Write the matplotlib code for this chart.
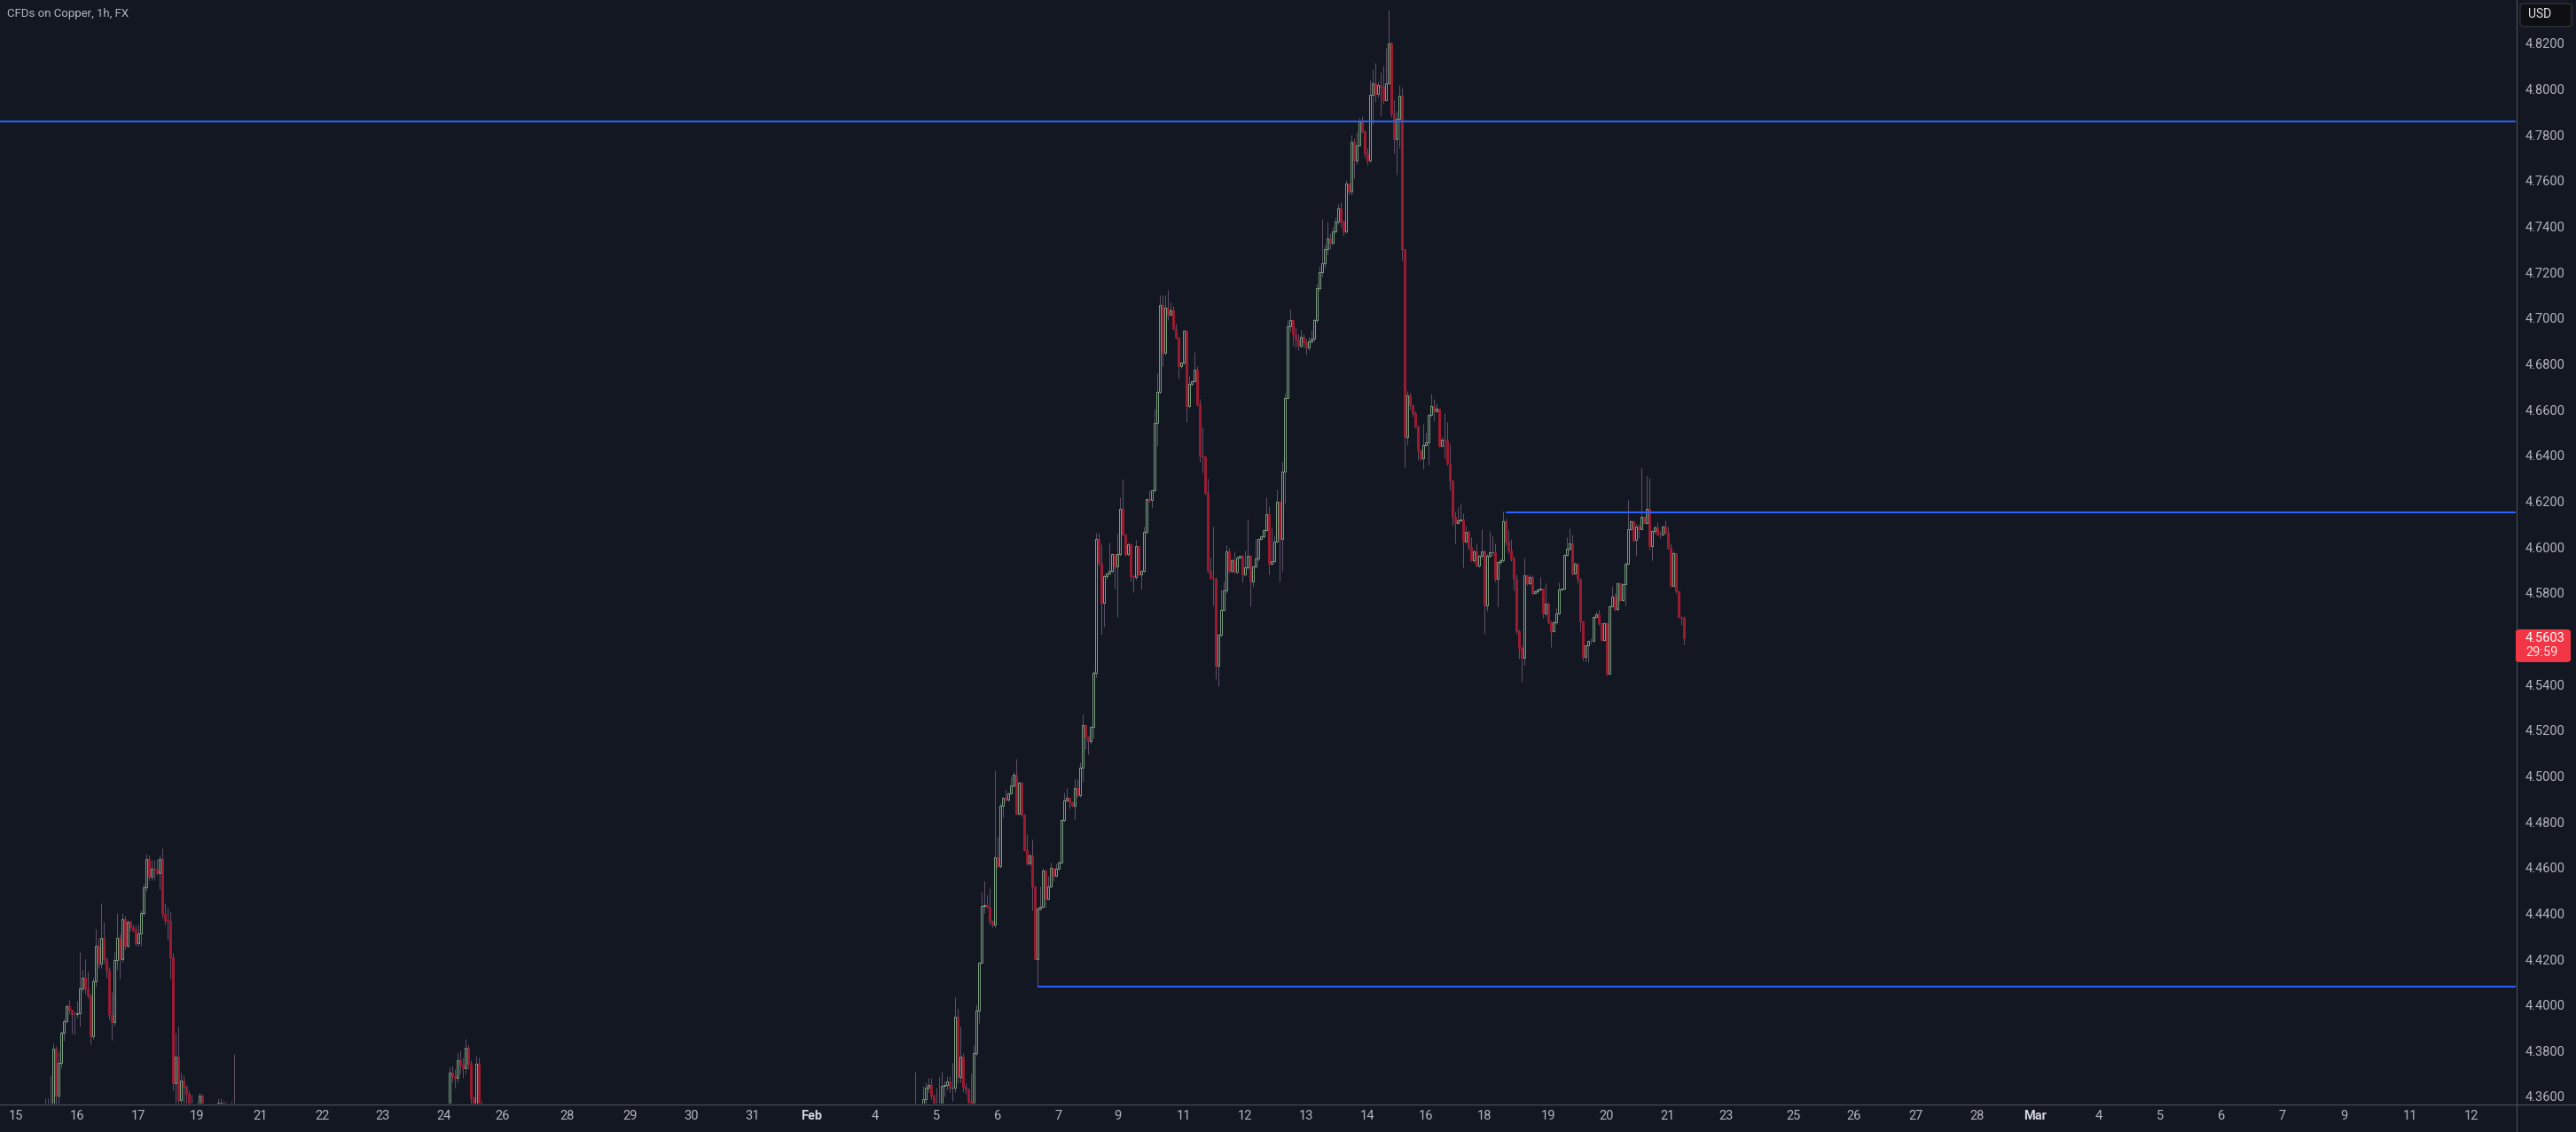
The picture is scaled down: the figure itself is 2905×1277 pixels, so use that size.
import matplotlib.pyplot as plt
from matplotlib.patches import FancyBboxPatch
from matplotlib.lines import Line2D
import numpy as np

plt.rcParams['font.family'] = ['Roboto', 'DejaVu Sans']

# figure size in pixels (dpi 100)
W, H = 2905, 1277

# colours (dark theme)
bg = '#131722'
up_col = '#789c7d'
down_col = '#9a1b30'
wick_col = '#5e5068'
level_col = '#2962ff'
text_col = '#b2b5be'
grid_line = '#50535e'

title = 'CFDs on Copper, 1h, FX'
last_price = 4.5603
countdown = '29:59'

# hourly bars, each segment: first bar number, open of first bar, closes, highs, lows
# (segments between them trade below the visible price range)
seg1_start = 17
seg1_open = 4.345
seg1_close = [4.348, 4.350, 4.352, 4.3811, 4.3605, 4.3746, 4.3877, 4.3931, 4.3993, 4.3978,
              4.3962, 4.3960, 4.3965, 4.4071, 4.4117, 4.4071, 4.4040, 4.3862, 4.4102, 4.4257,
              4.4179, 4.4292, 4.4199, 4.4148, 4.3955, 4.3926, 4.4195, 4.4295, 4.4201, 4.4373,
              4.4259, 4.4362, 4.4341, 4.4329, 4.4271, 4.4311, 4.4401, 4.4514, 4.4636, 4.4561,
              4.4594, 4.4592, 4.4577, 4.4636, 4.4399, 4.4370, 4.4368, 4.4206, 4.3659, 4.3773,
              4.3586, 4.3668, 4.3641, 4.3613, 4.3520, 4.3500, 4.3490, 4.3500, 4.3605, 4.3520,
              4.3500, 4.3490, 4.3500, 4.3520, 4.3550, 4.3571, 4.3573, 4.3565, 4.3540, 4.3530,
              4.3520, 4.3500]
seg1_high = [4.3594, 4.3594, 4.3691, 4.3831, 4.3820, 4.3797, 4.3886, 4.3940, 4.4004, 4.4022,
             4.3980, 4.3970, 4.4018, 4.4231, 4.4153, 4.4199, 4.4146, 4.4050, 4.4120, 4.4330,
             4.4293, 4.4446, 4.4362, 4.4207, 4.4166, 4.4055, 4.4230, 4.4401, 4.4308, 4.4401,
             4.4388, 4.4370, 4.4370, 4.4350, 4.4350, 4.4350, 4.4414, 4.4530, 4.4662, 4.4653,
             4.4634, 4.4634, 4.4637, 4.4653, 4.4685, 4.4444, 4.4424, 4.4411, 4.4227, 4.3878,
             4.3904, 4.3704, 4.3691, 4.3650, 4.3627, 4.3608, 4.3550, 4.3575, 4.3617, 4.3611,
             4.3540, 4.3530, 4.3540, 4.3545, 4.3560, 4.3591, 4.3591, 4.3580, 4.3578, 4.3550,
             4.3580, 4.3786]
seg1_low = [4.340, 4.342, 4.345, 4.350, 4.3560, 4.3565, 4.3724, 4.3844, 4.3920, 4.3960,
            4.3876, 4.3870, 4.3946, 4.3907, 4.4060, 4.4050, 4.4030, 4.3830, 4.3850, 4.4080,
            4.4160, 4.4160, 4.4180, 4.4117, 4.3937, 4.3846, 4.3910, 4.4153, 4.4115, 4.4190,
            4.4244, 4.4250, 4.4324, 4.4320, 4.4260, 4.4259, 4.4259, 4.4390, 4.4500, 4.4543,
            4.4546, 4.4543, 4.4569, 4.4507, 4.4380, 4.4350, 4.4285, 4.4115, 4.3627, 4.3560,
            4.3550, 4.3550, 4.3550, 4.3550, 4.3480, 4.3450, 4.3450, 4.3460, 4.3480, 4.3500,
            4.3470, 4.3460, 4.3470, 4.3480, 4.3500, 4.3530, 4.3560, 4.3540, 4.3520, 4.3500,
            4.3500, 4.3480]

seg2_start = 168
seg2_open = 4.350
seg2_close = [4.352, 4.3705, 4.3690, 4.3683, 4.3759, 4.3740, 4.3724, 4.3812, 4.3743, 4.3595,
              4.3540, 4.3743, 4.3560, 4.352]
seg2_high = [4.3560, 4.3731, 4.3735, 4.3720, 4.3790, 4.3800, 4.3770, 4.3850, 4.3830, 4.3760,
             4.3600, 4.3780, 4.3770, 4.3580]
seg2_low = [4.348, 4.350, 4.366, 4.364, 4.366, 4.370, 4.368, 4.370, 4.372, 4.357,
            4.350, 4.352, 4.352, 4.348]

seg3_start = 343
seg3_open = 4.346
seg3_close = [4.348, 4.350, 4.352, 4.354, 4.3587, 4.3639, 4.3650, 4.3603, 4.3560, 4.3530,
              4.3540, 4.3646, 4.3652, 4.3667, 4.3639, 4.3640, 4.3948, 4.3685, 4.3775, 4.3643,
              4.3630, 4.3575, 4.3560, 4.3791, 4.3974, 4.4185, 4.4432, 4.4435, 4.4430, 4.4366,
              4.4350, 4.4647, 4.4605, 4.4870, 4.4905, 4.4898, 4.4924, 4.4959, 4.5006, 4.4835,
              4.4971, 4.4830, 4.4676, 4.4617, 4.4654, 4.4518, 4.4202, 4.4420, 4.4429, 4.4589,
              4.4464, 4.4518, 4.4600, 4.4565, 4.4596, 4.4624, 4.4807, 4.4894, 4.4905, 4.4887,
              4.4870, 4.4948, 4.4917, 4.5035, 4.5222, 4.5173, 4.5152, 4.5215, 4.5452, 4.6036,
              4.5931, 4.5757, 4.5872, 4.5884, 4.5898, 4.5968, 4.5914, 4.5968, 4.6168, 4.6055,
              4.5968, 4.6013, 4.5874, 4.5870, 4.6003, 4.5879, 4.5896, 4.6067, 4.6208, 4.6205,
              4.6247, 4.6541, 4.6677, 4.7057, 4.6848, 4.7045, 4.7017, 4.7033, 4.6953, 4.6916,
              4.6792, 4.6806, 4.6946, 4.6618, 4.6712, 4.6724, 4.6775, 4.6623, 4.6400, 4.6395,
              4.6236, 4.5898, 4.5867, 4.5863, 4.5480, 4.5616, 4.5727, 4.5809, 4.5980, 4.5896,
              4.5942, 4.5891, 4.5956, 4.5961, 4.5879, 4.5910, 4.5961, 4.5849, 4.5914, 4.5949,
              4.6034, 4.6046, 4.6073, 4.6144, 4.5928, 4.5937, 4.6023, 4.6198, 4.6034, 4.6328,
              4.6653, 4.6965, 4.6990, 4.6930, 4.6905, 4.6880, 4.6920, 4.6895, 4.6870, 4.6900,
              4.6910, 4.6990, 4.7130, 4.7200, 4.7240, 4.7300, 4.7350, 4.7330, 4.7380, 4.7422,
              4.7480, 4.7422, 4.7380, 4.7587, 4.7555, 4.7769, 4.7689, 4.7754, 4.7860, 4.7818,
              4.7721, 4.7687, 4.7974, 4.8025, 4.7981, 4.8018, 4.8012, 4.7954, 4.8025, 4.8199,
              4.7893, 4.7780, 4.7870, 4.7971, 4.7300, 4.6479, 4.6662, 4.6619, 4.6585, 4.6527,
              4.6421, 4.6386, 4.6444, 4.6457, 4.6576, 4.6615, 4.6595, 4.6604, 4.6443, 4.6469,
              4.6464, 4.6363, 4.6292, 4.6131, 4.6107, 4.6118, 4.6120, 4.6024, 4.6066, 4.6000,
              4.5944, 4.5980, 4.5918, 4.5960, 4.5982, 4.5744, 4.5960, 4.5976, 4.5976, 4.5862,
              4.5935, 4.5941, 4.6111, 4.6024, 4.5986, 4.5950, 4.5862, 4.5631, 4.5560, 4.5515,
              4.5875, 4.5843, 4.5869, 4.5798, 4.5806, 4.5815, 4.5817, 4.5709, 4.5752, 4.5672,
              4.5634, 4.5672, 4.5709, 4.5815, 4.5817, 4.5967, 4.5991, 4.6018, 4.5883, 4.5927,
              4.5860, 4.5676, 4.5521, 4.5569, 4.5592, 4.5590, 4.5694, 4.5707, 4.5669, 4.5595,
              4.5669, 4.5447, 4.5740, 4.5782, 4.5728, 4.5840, 4.5769, 4.5838, 4.5928, 4.6079,
              4.6111, 4.6030, 4.6090, 4.6080, 4.6131, 4.6107, 4.6166, 4.6005, 4.6070, 4.6085,
              4.6056, 4.6053, 4.6088, 4.6064, 4.5995, 4.5831, 4.5972, 4.5806, 4.5696, 4.5690,
              4.5603]
seg3_high = [4.352, 4.3709, 4.356, 4.3566, 4.3646, 4.3662, 4.3681, 4.3681, 4.3610, 4.3639,
             4.3685, 4.3709, 4.3670, 4.3690, 4.3690, 4.3749, 4.4033, 4.3984, 4.3906, 4.3790,
             4.3660, 4.3640, 4.3702, 4.3826, 4.4002, 4.4190, 4.4495, 4.4542, 4.4483, 4.4511,
             4.4370, 4.5023, 4.4734, 4.4882, 4.4910, 4.4940, 4.4930, 4.4999, 4.5018, 4.5074,
             4.4980, 4.4975, 4.4835, 4.4746, 4.4660, 4.4723, 4.4520, 4.4430, 4.4518, 4.4600,
             4.4590, 4.4565, 4.4624, 4.4600, 4.4619, 4.4630, 4.4810, 4.4929, 4.4948, 4.4905,
             4.4890, 4.4988, 4.4988, 4.5058, 4.5269, 4.5225, 4.5175, 4.5220, 4.5460, 4.6062,
             4.6062, 4.6013, 4.5880, 4.5890, 4.6020, 4.5975, 4.5970, 4.6060, 4.6219, 4.6294,
             4.6060, 4.6020, 4.6015, 4.5880, 4.6032, 4.6005, 4.5900, 4.6090, 4.6215, 4.6247,
             4.6250, 4.6606, 4.6759, 4.7099, 4.7099, 4.7099, 4.7125, 4.7071, 4.7052, 4.6977,
             4.6920, 4.6810, 4.6950, 4.6951, 4.6747, 4.6730, 4.6853, 4.6789, 4.6646, 4.6524,
             4.6400, 4.6299, 4.5954, 4.6090, 4.5870, 4.5620, 4.5813, 4.5849, 4.6008, 4.5996,
             4.5950, 4.5980, 4.5960, 4.5965, 4.5965, 4.5985, 4.6121, 4.5965, 4.5920, 4.6036,
             4.6040, 4.6050, 4.6080, 4.6217, 4.6178, 4.6086, 4.6050, 4.6251, 4.6200, 4.6372,
             4.6670, 4.6990, 4.7040, 4.6995, 4.6960, 4.6930, 4.6950, 4.6930, 4.6910, 4.6920,
             4.6950, 4.7000, 4.7150, 4.7230, 4.7435, 4.7320, 4.7420, 4.7370, 4.7400, 4.7440,
             4.7499, 4.7506, 4.7430, 4.7603, 4.7590, 4.7800, 4.7786, 4.7813, 4.7874, 4.7883,
             4.7820, 4.7745, 4.8042, 4.8087, 4.8113, 4.8033, 4.8076, 4.8103, 4.8181, 4.8347,
             4.8207, 4.7954, 4.7906, 4.8018, 4.8007, 4.7300, 4.6682, 4.6676, 4.6625, 4.6595,
             4.6530, 4.6425, 4.6537, 4.6502, 4.6580, 4.6669, 4.6647, 4.6628, 4.6606, 4.6480,
             4.6585, 4.6546, 4.6450, 4.6292, 4.6157, 4.6176, 4.6189, 4.6146, 4.6095, 4.6076,
             4.6044, 4.5990, 4.6015, 4.5965, 4.6077, 4.5990, 4.5970, 4.6070, 4.6050, 4.6015,
             4.5940, 4.5950, 4.6157, 4.6124, 4.6076, 4.6036, 4.5960, 4.5880, 4.5640, 4.5570,
             4.5956, 4.5880, 4.5875, 4.5875, 4.5810, 4.5820, 4.5870, 4.5820, 4.5843, 4.5760,
             4.5680, 4.5680, 4.5733, 4.5847, 4.5820, 4.5970, 4.6043, 4.6082, 4.6053, 4.5935,
             4.5930, 4.5865, 4.5680, 4.5575, 4.5595, 4.5600, 4.5700, 4.5718, 4.5724, 4.5672,
             4.5672, 4.5672, 4.5745, 4.5830, 4.5798, 4.5845, 4.5845, 4.5840, 4.5935, 4.6205,
             4.6115, 4.6115, 4.6100, 4.6100, 4.6344, 4.6135, 4.6309, 4.6301, 4.6075, 4.6095,
             4.6110, 4.6070, 4.6095, 4.6115, 4.6088, 4.6017, 4.5980, 4.5975, 4.5810, 4.5700,
             4.5700]
seg3_low = [4.344, 4.346, 4.348, 4.350, 4.352, 4.357, 4.362, 4.359, 4.353, 4.351,
            4.350, 4.352, 4.360, 4.363, 4.362, 4.358, 4.362, 4.366, 4.366, 4.362,
            4.361, 4.356, 4.350, 4.352, 4.3780, 4.3920, 4.4180, 4.4400, 4.4420, 4.4350,
            4.4341, 4.4340, 4.4600, 4.4600, 4.4819, 4.4890, 4.4890, 4.4920, 4.4950, 4.4830,
            4.4830, 4.4825, 4.4671, 4.4610, 4.4610, 4.4413, 4.4195, 4.4081, 4.4415, 4.4425,
            4.4425, 4.4460, 4.4515, 4.4542, 4.4560, 4.4590, 4.4620, 4.4800, 4.4890, 4.4859,
            4.4865, 4.4812, 4.4910, 4.4910, 4.4976, 4.5117, 4.5093, 4.5140, 4.5164, 4.5433,
            4.5920, 4.5616, 4.5651, 4.5860, 4.5880, 4.5890, 4.5820, 4.5696, 4.5960, 4.6050,
            4.5960, 4.5960, 4.5850, 4.5804, 4.5856, 4.5875, 4.5816, 4.5890, 4.6060, 4.6200,
            4.6172, 4.6240, 4.6442, 4.6670, 4.6789, 4.6840, 4.6993, 4.7010, 4.6950, 4.6910,
            4.6738, 4.6782, 4.6800, 4.6548, 4.6610, 4.6705, 4.6720, 4.6615, 4.6372, 4.6325,
            4.6230, 4.5890, 4.5860, 4.5745, 4.5422, 4.5391, 4.5610, 4.5720, 4.5800, 4.5890,
            4.5890, 4.5885, 4.5885, 4.5950, 4.5844, 4.5875, 4.5905, 4.5743, 4.5825, 4.5910,
            4.5940, 4.6030, 4.6040, 4.6070, 4.5882, 4.5924, 4.5930, 4.6020, 4.5849, 4.5898,
            4.6191, 4.6650, 4.6940, 4.6880, 4.6870, 4.6860, 4.6870, 4.6870, 4.6840, 4.6860,
            4.6890, 4.6900, 4.6980, 4.7120, 4.7180, 4.7220, 4.7280, 4.7300, 4.7320, 4.7370,
            4.7410, 4.7400, 4.7360, 4.7370, 4.7540, 4.7536, 4.7612, 4.7674, 4.7750, 4.7809,
            4.7700, 4.7671, 4.7680, 4.7848, 4.7945, 4.7964, 4.7884, 4.7938, 4.7950, 4.8020,
            4.7880, 4.7721, 4.7625, 4.7745, 4.7250, 4.6350, 4.6447, 4.6600, 4.6570, 4.6520,
            4.6382, 4.6380, 4.6340, 4.6440, 4.6359, 4.6570, 4.6550, 4.6590, 4.6440, 4.6440,
            4.6386, 4.6355, 4.6250, 4.6092, 4.6015, 4.6100, 4.6110, 4.5911, 4.6020, 4.5990,
            4.5940, 4.5930, 4.5910, 4.5912, 4.5950, 4.5621, 4.5720, 4.5955, 4.5960, 4.5850,
            4.5740, 4.5925, 4.5935, 4.6010, 4.5975, 4.5940, 4.5812, 4.5620, 4.5511, 4.5414,
            4.5487, 4.5835, 4.5835, 4.5790, 4.5795, 4.5800, 4.5810, 4.5690, 4.5700, 4.5665,
            4.5565, 4.5630, 4.5665, 4.5705, 4.5810, 4.5815, 4.5960, 4.5985, 4.5875, 4.5880,
            4.5840, 4.5634, 4.5505, 4.5501, 4.5498, 4.5580, 4.5585, 4.5690, 4.5660, 4.5590,
            4.5590, 4.5440, 4.5444, 4.5740, 4.5720, 4.5720, 4.5765, 4.5765, 4.5744, 4.5925,
            4.6075, 4.6025, 4.5960, 4.6040, 4.6085, 4.6100, 4.6100, 4.5990, 4.5944, 4.6060,
            4.6050, 4.6040, 4.6050, 4.6060, 4.5990, 4.5825, 4.5825, 4.5800, 4.5690, 4.5660,
            4.5576]

# horizontal levels: (first bar, price)
level_start = [0, 566, 390]
level_price = [4.786, 4.6152, 4.4081]

# time axis labels and the bar where each day starts
day_labels = ['15', '16', '17', '19', '21', '22', '23', '24', '26', '28', '29', '30', '31', 'Feb',
              '4', '5', '6', '7', '9', '11', '12', '13', '14', '16', '18', '19', '20', '21', '23',
              '25', '26', '27', '28', 'Mar', '4', '5', '6', '7', '9', '11', '12']
day_bars = [6, 29, 52, 74, 98, 121, 144, 167, 189, 213, 237, 260, 283, 305, 329, 352, 375, 398,
            420, 445, 468, 491, 514, 536, 558, 582, 604, 627, 649, 674, 697, 720, 743, 765, 789,
            812, 835, 858, 881, 906, 929]

# price axis ticks
price_ticks = np.arange(4.36, 4.8201, 0.02)


def build(start, first_open, closes, highs, lows):
    n = len(closes)
    x = np.arange(start, start + n)
    c = np.array(closes)
    o = np.concatenate([[first_open], c[:-1]])
    h = np.maximum(np.array(highs), np.maximum(o, c))
    l = np.minimum(np.array(lows), np.minimum(o, c))
    return x, o, h, l, c


parts = [build(seg1_start, seg1_open, seg1_close, seg1_high, seg1_low),
         build(seg2_start, seg2_open, seg2_close, seg2_high, seg2_low),
         build(seg3_start, seg3_open, seg3_close, seg3_high, seg3_low)]
x = np.concatenate([p[0] for p in parts])
o = np.concatenate([p[1] for p in parts])
h = np.concatenate([p[2] for p in parts])
l = np.concatenate([p[3] for p in parts])
c = np.concatenate([p[4] for p in parts])
up = c >= o

fig = plt.figure(figsize=(W / 100, H / 100), dpi=100, facecolor=bg)
# plot area: 2837 px wide, 1245 px tall, from the top left corner
ax = fig.add_axes([0, (H - 1245) / H, 2837 / W, 1245 / H])
ax.set_facecolor(bg)

px = 72 / 100  # one pixel in points

# wicks then bodies
ax.vlines(x, l, h, color=wick_col, lw=px, zorder=2)
ax.bar(x[up], (c - o)[up], bottom=o[up], width=0.7, facecolor=bg, edgecolor=up_col,
       linewidth=px, zorder=3)
ax.bar(x[~up], (c - o)[~up], bottom=o[~up], width=0.7, facecolor=down_col, edgecolor=down_col,
       linewidth=px, zorder=3)

# drawn levels
for s, p in zip(level_start, level_price):
    ax.hlines(p, s, 2837 / 3, color=level_col, lw=2 * px, zorder=4)

ax.set_xlim(0, 2837 / 3)
ax.set_ylim(4.3569, 4.83897)

for s in ax.spines.values():
    s.set_visible(False)

ax.yaxis.tick_right()
ax.set_yticks(price_ticks)
ax.set_yticklabels([f'{v:.4f}' for v in price_ticks])
ax.tick_params(axis='y', length=0, pad=8, labelsize=10.5, labelcolor=text_col)

ax.set_xticks(day_bars)
ax.set_xticklabels(day_labels)
ax.tick_params(axis='x', length=0, pad=5, labelsize=10.5, labelcolor=text_col)
for t in ax.get_xticklabels():
    if t.get_text() in ('Feb', 'Mar'):
        t.set_fontweight('bold')
        t.set_color('#d1d4dc')

# scale borders
fig.add_artist(Line2D([2837.5 / W, 2837.5 / W], [0, 1], color=grid_line, lw=px))
fig.add_artist(Line2D([0, 1], [(H - 1245.5) / H, (H - 1245.5) / H], color=grid_line, lw=px))

# title
fig.text(8 / W, 1 - 16 / H, title, color=text_col, fontsize=9.5, va='center', ha='left')

# currency box
fig.add_artist(FancyBboxPatch((2842 / W, (H - 30) / H), 58 / W, 26 / H,
                              boxstyle='round,pad=0,rounding_size=0.002',
                              facecolor='#0e0f13', edgecolor='#3a3d45', lw=px,
                              transform=fig.transFigure, zorder=5))
fig.text(2851 / W, 1 - 16.5 / H, 'USD', color='#e8e8ea', fontsize=10, va='center', ha='left',
         zorder=6)

# last price label
fig.add_artist(FancyBboxPatch((2837 / W, (H - 747) / H), 62 / W, 37 / H,
                              boxstyle='round,pad=0,rounding_size=0.002',
                              facecolor='#f23645', edgecolor='none',
                              transform=fig.transFigure, zorder=5))
fig.text(2848 / W, 1 - 720 / H, f'{last_price:.4f}', color='white', fontsize=10.5,
         va='center', ha='left', zorder=6)
fig.text(2848 / W, 1 - 736 / H, countdown, color='#fbe3e5', fontsize=10.5,
         va='center', ha='left', zorder=6)

fig.savefig('out.png', dpi=100, facecolor=bg)
